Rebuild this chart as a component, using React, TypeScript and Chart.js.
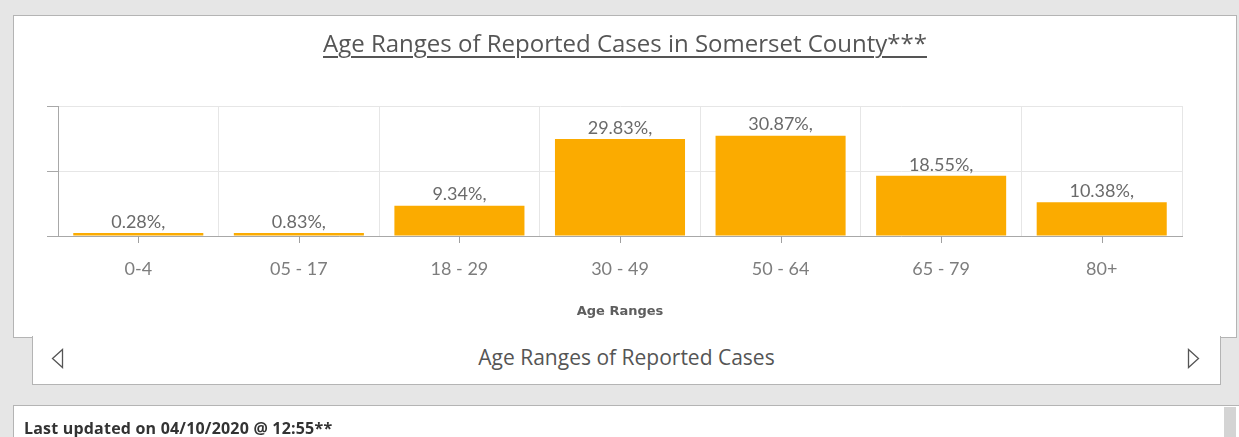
import React, { useEffect, useRef } from "react";
import { Chart, registerables } from "chart.js";

Chart.register(...registerables);

const categories = ["0-4", "05 - 17", "18 - 29", "30 - 49", "50 - 64", "65 - 79", "80+"];
const percentValues = [0.28, 0.83, 9.34, 29.83, 30.87, 18.55, 10.38];
const valueLabels = ["0.28%,", "0.83%,", "9.34%,", "29.83%,", "30.87%,", "18.55%,", "10.38%,"];
const yMin = 0;
const yMax = 40;
const yStep = 20;

const chartTitle = "Age Ranges of Reported Cases in Somerset County***";
const xAxisTitle = "Age Ranges";
const tabTitle = "Age Ranges of Reported Cases";
const footerText = "Last updated on 04/10/2020 @ 12:55**";

const BAR_COLOR = "#fbab00";
const CHART_FONT = "Lato, 'Open Sans', sans-serif";

const barLabelPlugin = {
  id: "barLabels",
  afterDatasetsDraw(chart: any) {
    const ctx = chart.ctx;
    const meta = chart.getDatasetMeta(0);
    ctx.save();
    ctx.font = `18px ${CHART_FONT}`;
    ctx.fillStyle = "#6a6a6a";
    ctx.textAlign = "center";
    ctx.textBaseline = "bottom";
    meta.data.forEach((bar: any, i: number) => {
      const { x, y } = bar.getProps(["x", "y"], true);
      ctx.fillText(valueLabels[i], x, y - 2);
    });
    ctx.restore();
  },
};

const xTickMarkPlugin = {
  id: "xTickMarks",
  afterDraw(chart: any) {
    const ctx = chart.ctx;
    const xs = chart.scales.x;
    const bottom = chart.chartArea.bottom;
    ctx.save();
    ctx.strokeStyle = "#a0a0a0";
    ctx.lineWidth = 1;
    categories.forEach((_, i) => {
      const px = Math.round(xs.getPixelForValue(i)) + 0.5;
      ctx.beginPath();
      ctx.moveTo(px, bottom);
      ctx.lineTo(px, bottom + 7);
      ctx.stroke();
    });
    ctx.restore();
  },
};

function AgeChart() {
  const ref = useRef<HTMLCanvasElement | null>(null);
  useEffect(() => {
    if (!ref.current) return;
    const chart = new Chart(ref.current, {
      type: "bar",
      data: {
        labels: categories,
        datasets: [
          {
            data: percentValues,
            backgroundColor: BAR_COLOR,
            borderWidth: 0,
            categoryPercentage: 0.81,
            barPercentage: 1,
            minBarLength: 3,
          },
        ],
      },
      plugins: [barLabelPlugin, xTickMarkPlugin],
      options: {
        animation: false,
        responsive: false,
        layout: { padding: { left: 33, right: 53, top: 90, bottom: 0 } },
        plugins: {
          legend: { display: false },
          tooltip: { enabled: false },
          title: { display: false },
        },
        scales: {
          x: {
            grid: {
              offset: true,
              drawTicks: false,
              color: "#e6e6e6",
            },
            border: { color: "#a8a8a8" },
            ticks: {
              padding: 22,
              color: "#7d7d7d",
              font: { family: CHART_FONT, size: 18 },
            },
            title: {
              display: true,
              text: xAxisTitle,
              color: "#5e5e5e",
              font: { family: "'DejaVu Sans', sans-serif", size: 13, weight: "bold" },
              padding: { top: 0, bottom: 17 },
            },
            afterFit(scale: any) {
              scale.height = 100;
            },
          },
          y: {
            min: yMin,
            max: yMax,
            ticks: { display: false, stepSize: yStep },
            grid: {
              color: "#e6e6e6",
              tickColor: "#a8a8a8",
              tickLength: 11,
              drawTicks: true,
            },
            border: { color: "#a8a8a8" },
            afterFit(scale: any) {
              scale.width = 11;
            },
          },
        },
      },
    });
    return () => chart.destroy();
  }, []);
  return (
    <canvas
      ref={ref}
      width={1221}
      height={320}
      style={{ position: "absolute", left: 14, top: 16, width: 1221, height: 320 }}
    />
  );
}

export default function App() {
  const border = "1px solid #b4b4b4";
  return (
    <div
      style={{
        position: "fixed",
        left: 0,
        top: 0,
        width: 1239,
        height: 437,
        background: "#e6e6e6",
        overflow: "hidden",
        fontFamily: "'Open Sans', sans-serif",
      }}
    >
      {/* main panel */}
      <div
        style={{
          position: "absolute",
          left: 13,
          top: 15,
          width: 1222,
          height: 321,
          border,
          background: "#ffffff",
        }}
      />
      {/* tab area */}
      <div
        style={{
          position: "absolute",
          left: 32,
          top: 336,
          width: 1187,
          height: 48,
          borderLeft: border,
          borderRight: border,
          borderBottom: border,
          background: "#ffffff",
        }}
      />
      <AgeChart />
      <div
        style={{
          position: "absolute",
          left: 13,
          top: 29,
          width: 1224,
          textAlign: "center",
          fontSize: 24,
          color: "#555555",
          textDecoration: "underline",
          textDecorationThickness: "1.5px",
          textUnderlineOffset: 4,
          lineHeight: "28px",
          whiteSpace: "nowrap",
        }}
      >
        {chartTitle}
      </div>
      <div
        style={{
          position: "absolute",
          left: 32,
          top: 344,
          width: 1189,
          textAlign: "center",
          fontSize: 21,
          color: "#555555",
          lineHeight: "26px",
          whiteSpace: "nowrap",
        }}
      >
        {tabTitle}
      </div>
      <svg
        style={{ position: "absolute", left: 0, top: 0 }}
        width={1239}
        height={437}
      >
        <polygon points="62.5,349.5 62.5,367.5 52.5,358.5" fill="none" stroke="#555" strokeWidth={1.3} />
        <polygon points="1188.5,349.5 1188.5,367.5 1198.5,358.5" fill="none" stroke="#555" strokeWidth={1.3} />
      </svg>
      {/* footer panel */}
      <div
        style={{
          position: "absolute",
          left: 13,
          top: 405,
          width: 1226,
          height: 40,
          borderTop: border,
          borderLeft: border,
          background: "#ffffff",
        }}
      />
      <div
        style={{
          position: "absolute",
          left: 1224,
          top: 407,
          width: 12,
          height: 40,
          background: "#d4d4d4",
        }}
      />
      <div
        style={{
          position: "absolute",
          left: 24,
          top: 419,
          fontSize: 16,
          fontWeight: 700,
          color: "#333333",
          lineHeight: "18px",
          letterSpacing: "0.2px",
          whiteSpace: "nowrap",
        }}
      >
        {footerText}
      </div>
    </div>
  );
}
